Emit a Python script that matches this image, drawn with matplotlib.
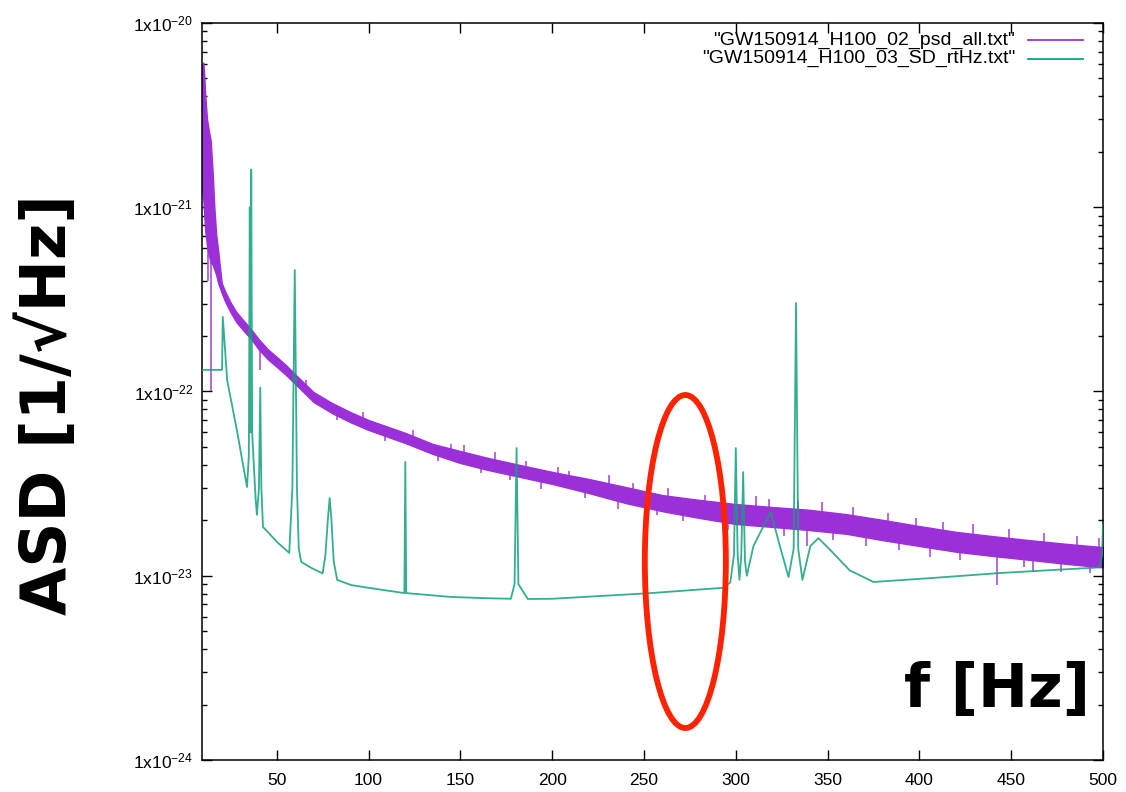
import numpy as np
import matplotlib.pyplot as plt
from matplotlib.patches import Ellipse

plt.rcParams['font.family'] = ['Liberation Sans', 'DejaVu Sans']
plt.rcParams['mathtext.default'] = 'regular'

# purple trace (psd_all): noisy band, upper / lower edge
psdFreq = [9.1, 10, 10.5, 11, 12, 13, 14, 15, 16, 17, 18, 20, 22, 25, 28, 32, 36, 40, 45, 50,
           55, 60, 70, 80, 90, 100, 120, 135, 150, 165, 180, 200, 220, 240, 260, 280, 300, 320,
           340, 360, 380, 400, 420, 440, 460, 480, 500]
psdHigh = [6.0e-21, 6.1e-21, 5.2e-21, 4.1e-21, 3.0e-21, 2.6e-21, 2.3e-21, 1.6e-21, 1.0e-21,
           7.1e-22, 5.9e-22, 3.88e-22, 3.47e-22, 3.02e-22, 2.70e-22, 2.42e-22, 2.18e-22,
           1.93e-22, 1.70e-22, 1.54e-22, 1.39e-22, 1.24e-22, 9.93e-23, 8.67e-23, 7.74e-23,
           7.00e-23, 5.96e-23, 5.19e-23, 4.75e-23, 4.36e-23, 4.04e-23, 3.66e-23, 3.35e-23,
           3.03e-23, 2.74e-23, 2.58e-23, 2.45e-23, 2.36e-23, 2.28e-23, 2.16e-23, 2.01e-23,
           1.86e-23, 1.73e-23, 1.64e-23, 1.56e-23, 1.49e-23, 1.43e-23]
psdLow = [1.3e-21, 1.1e-21, 9.1e-22, 7.5e-22, 6.2e-22, 5.5e-22, 5.0e-22, 4.9e-22, 4.6e-22,
          4.3e-22, 3.9e-22, 3.43e-22, 3.06e-22, 2.67e-22, 2.38e-22, 2.13e-22, 1.93e-22,
          1.70e-22, 1.50e-22, 1.36e-22, 1.23e-22, 1.10e-22, 8.77e-23, 7.64e-23, 6.82e-23,
          6.18e-23, 5.25e-23, 4.58e-23, 4.09e-23, 3.75e-23, 3.48e-23, 3.15e-23, 2.81e-23,
          2.48e-23, 2.24e-23, 2.06e-23, 1.91e-23, 1.84e-23, 1.77e-23, 1.69e-23, 1.56e-23,
          1.45e-23, 1.35e-23, 1.28e-23, 1.22e-23, 1.16e-23, 1.11e-23]

# single noise spikes sticking out of the purple band
spikeFreq = [9.6, 10.8, 11.6, 12.7, 14.3, 40.8, 66, 83, 97, 109, 124, 138, 145,
             152, 161, 169, 177, 186, 194, 203, 209, 218, 231, 236, 244, 257, 263, 271, 283,
             296, 311, 318, 326, 334, 339, 347, 353, 364, 371, 383, 389, 398, 406, 413, 422,
             429, 442, 449, 457, 462, 468, 477, 486, 493, 498]
spikeLow = [1.5e-21, 1.0e-21, 8e-22, 4.0e-22, 1.0e-22, 1.31e-22, 1.02e-22, 7.0e-23, 6.8e-23,
            5.4e-23, 5.4e-23, 4.2e-23, 4.5e-23,
            4.4e-23, 3.6e-23, 4.0e-23, 3.3e-23, 3.7e-23, 2.95e-23, 3.35e-23, 3.3e-23, 2.65e-23,
            2.9e-23, 2.3e-23, 2.7e-23, 2.13e-23, 2.45e-23, 1.97e-23, 2.3e-23,
            1.78e-23, 2.15e-23, 2.1e-23, 1.65e-23, 2.0e-23, 1.45e-23, 1.98e-23, 1.57e-23,
            1.9e-23, 1.45e-23, 1.75e-23, 1.38e-23, 1.65e-23, 1.27e-23, 1.55e-23, 1.22e-23,
            1.5e-23, 8.9e-24, 1.45e-23, 1.12e-23, 1.05e-23, 1.4e-23, 1.05e-23, 1.32e-23,
            1.03e-23, 1.27e-23]
spikeHigh = [6.0e-21, 4.5e-21, 2.6e-21, 2.4e-21, 2.0e-21, 1.9e-22, 1.15e-22, 8.0e-23, 7.7e-23,
             6.2e-23, 6.2e-23, 4.8e-23, 5.2e-23,
             5.1e-23, 4.1e-23, 4.7e-23, 3.8e-23, 4.2e-23, 3.5e-23, 3.9e-23, 3.7e-23, 3.1e-23,
             3.5e-23, 2.8e-23, 3.2e-23, 2.5e-23, 3.0e-23, 2.35e-23, 2.75e-23,
             2.2e-23, 2.7e-23, 2.6e-23, 2.05e-23, 2.55e-23, 2.0e-23, 2.5e-23, 1.95e-23,
             2.35e-23, 1.85e-23, 2.2e-23, 1.7e-23, 2.05e-23, 1.6e-23, 1.95e-23, 1.5e-23,
             1.9e-23, 1.45e-23, 1.8e-23, 1.38e-23, 1.38e-23, 1.7e-23, 1.32e-23, 1.65e-23,
             1.28e-23, 1.6e-23]

# green trace (SD_rtHz)
sdFreq = [9.1, 20.2, 20.6, 23, 28.5, 33.8, 34.8, 35.3, 35.7, 36.1, 36.6, 37.5, 38.5, 39.2,
          40.3, 41.0, 41.6, 42.5, 50.6, 56.8, 58.5, 59.8, 61.0, 62.0, 63.3, 69, 75, 76.5, 77.8,
          78.8, 79.8, 81, 82.9, 90.5, 100, 119.5, 120, 120.5, 145, 165, 177.5, 179.5, 180.6,
          181.6, 186.7, 200, 217, 253.6, 293, 297, 299, 300, 301, 302, 303, 304, 305, 306,
          309.6, 319, 324, 328.7, 331.5, 332.8, 334, 336.3, 340.6, 345, 353, 362, 375, 407.5,
          444, 498, 499.5, 500]
sdAsd = [1.31e-22, 1.31e-22, 2.54e-22, 1.15e-22, 6.0e-23, 3.03e-23, 4.5e-23, 1.0e-21, 6e-23,
         1.6e-21, 6e-23, 4e-23, 2.6e-23, 2.14e-23, 3.0e-23, 1.05e-22, 3.0e-23, 1.84e-23,
         1.51e-23, 1.33e-23, 3.0e-23, 4.56e-22, 3.0e-23, 1.4e-23, 1.19e-23, 1.1e-23, 1.03e-23,
         1.3e-23, 2.0e-23, 2.64e-23, 2.0e-23, 1.2e-23, 9.5e-24, 8.9e-24, 8.6e-24, 8.05e-24,
         4.14e-23, 8.05e-24, 7.67e-24, 7.55e-24, 7.5e-24, 9.0e-24, 4.93e-23, 9.0e-24, 7.48e-24,
         7.5e-24, 7.67e-24, 8.05e-24, 8.6e-24, 9.2e-24, 1.3e-23, 4.93e-23, 1.3e-23, 9.5e-24,
         1.3e-23, 3.65e-23, 1.2e-23, 1.0e-23, 1.45e-23, 2.22e-23, 1.45e-23, 9.85e-24, 1.4e-23,
         3.02e-22, 1.4e-23, 9.5e-24, 1.45e-23, 1.60e-23, 1.33e-23, 1.07e-23, 9.25e-24,
         9.73e-24, 1.035e-23, 1.11e-23, 1.3e-23, 1.9e-23]

xTicks = [50, 100, 150, 200, 250, 300, 350, 400, 450, 500]
yTicks = [1e-24, 1e-23, 1e-22, 1e-21, 1e-20]
yTickLabels = [r'1x10$^{-24}$', r'1x10$^{-23}$', r'1x10$^{-22}$', r'1x10$^{-21}$',
               r'1x10$^{-20}$']
legendLabels = ['"GW150914_H100_02_psd_all.txt"', '"GW150914_H100_03_SD_rtHz.txt"']

purple = '#9b30d9'
green = '#10a07a'

fig = plt.figure(figsize=(11.26, 7.92), dpi=100)
ax = fig.add_axes([0.1791, 0.0404, 0.8005, 0.9306])

ax.fill_between(psdFreq, psdLow, psdHigh, color=purple, lw=1.0, zorder=2)
ax.vlines(spikeFreq, spikeLow, spikeHigh, color=purple, lw=1.2, alpha=0.85, zorder=2)
ax.plot(sdFreq, sdAsd, color=green, lw=1.3, alpha=0.85, zorder=3)

ax.set_yscale('log')
ax.set_xlim(9.1, 500)
ax.set_ylim(1e-24, 1e-20)
ax.set_xticks(xTicks)
ax.set_xticklabels([str(t) for t in xTicks])
ax.set_yticks(yTicks)
ax.set_yticklabels(yTickLabels)
ax.tick_params(which='both', direction='in', top=True, right=True, labelsize=12.5, width=1.0)
ax.tick_params(which='major', length=7)
ax.tick_params(which='minor', length=3.5)
ax.tick_params(axis='x', pad=9)
ax.tick_params(axis='y', pad=6)
for s in ax.spines.values():
    s.set_linewidth(1.1)

# gnuplot style key: right aligned text, line sample on the right
for row, (label, col) in enumerate(zip(legendLabels, [purple, green])):
    yk = 0.9765 - row * 0.0252
    ax.text(0.9023, yk, label, transform=ax.transAxes, ha='right', va='center', fontsize=14)
    ax.plot([0.9168, 0.9778], [yk, yk], transform=ax.transAxes, color=col, lw=1.3)

ax.text(0.9856, 0.072, 'f [Hz]', transform=ax.transAxes, ha='right', va='baseline',
        fontsize=43, fontweight='bold', family='DejaVu Sans')
fig.text(0.043, 0.489, 'ASD [1/\u221aHz]', rotation=90, ha='center', va='center',
         fontsize=45, fontweight='bold', family='DejaVu Sans')

ax.add_patch(Ellipse((0.5366, 0.2693), 0.0899, 0.4518, transform=ax.transAxes,
                     fill=False, ec='#ff2200', lw=4.2, zorder=5))

fig.savefig('out.png', dpi=100)
